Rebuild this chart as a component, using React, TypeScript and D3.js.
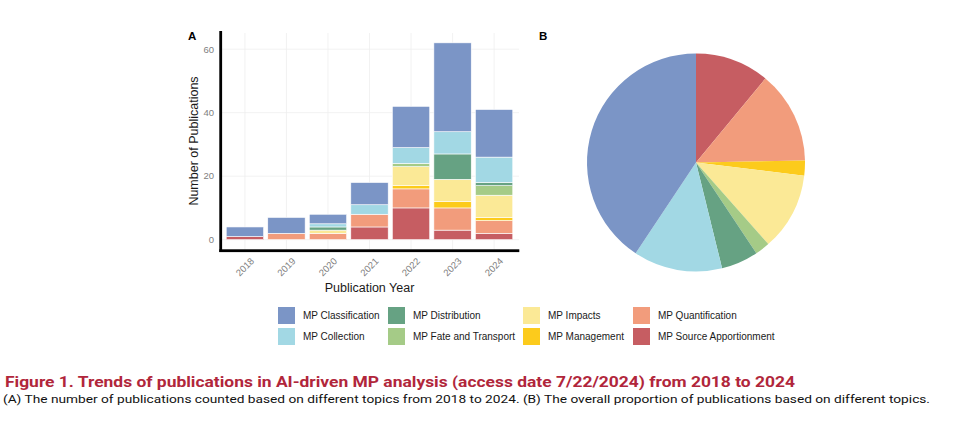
import React from "react";
import * as d3 from "d3";

const years = ["2018", "2019", "2020", "2021", "2022", "2023", "2024"];
const classification = [3, 5, 3, 7, 13, 28, 15];
const collection = [0, 0, 1, 3, 5, 7, 8];
const distribution = [0, 0, 1, 0, 0, 8, 1];
const fateTransport = [0, 0, 0, 0, 1, 0, 3];
const impacts = [0, 0, 1, 0, 6, 7, 7];
const management = [0, 0, 0, 0, 1, 2, 1];
const quantification = [0, 2, 2, 4, 6, 7, 4];
const sourceApportionment = [1, 0, 0, 4, 10, 3, 2];

const topicNames = [
  "MP Classification",
  "MP Collection",
  "MP Distribution",
  "MP Fate and Transport",
  "MP Impacts",
  "MP Management",
  "MP Quantification",
  "MP Source Apportionment",
];
const topicValues = [
  classification,
  collection,
  distribution,
  fateTransport,
  impacts,
  management,
  quantification,
  sourceApportionment,
];
const topicColors = [
  "#7b95c6",
  "#a2d8e4",
  "#66a283",
  "#a5cb87",
  "#fbe996",
  "#fccb1c",
  "#f29c7c",
  "#c65d62",
];
const yTicks = [0, 20, 40, 60];

const FONT = "'Liberation Sans', Arial, Helvetica, sans-serif";

export default function App() {
  const rows = years.map((y, i) => {
    const r: any = { year: y };
    topicNames.forEach((t, k) => (r[t] = topicValues[k][i]));
    return r;
  });
  // stack order bottom -> top is reverse of legend order
  const stackKeys = [...topicNames].reverse();
  const series = d3.stack().keys(stackKeys)(rows);
  const colorOf = d3.scaleOrdinal<string, string>().domain(topicNames).range(topicColors);

  const x = d3.scalePoint().domain(years).range([220, 519]).padding(0.6);
  const step = x.step();
  const bw = step * 0.9;
  const cx = (y: string) => x(y) as number;
  const yS = d3.scaleLinear().domain([-3.1, 65.1]).range([249.5, 33]);

  const totals = topicValues.map((v) => d3.sum(v));
  const pieData = stackKeys.map((k) => ({ key: k, value: totals[topicNames.indexOf(k)] }));
  const arcs = d3.pie<any>().sort(null).value((d) => d.value)(pieData);
  const arcGen = d3.arc<any>().innerRadius(0).outerRadius(109);

  const legendCols = [278, 388, 523, 633];

  return (
    <div style={{ position: "fixed", left: 0, top: 0 }}>
      <svg width={960} height={425} style={{ display: "block", background: "#fff" }}>
        {/* Panel A grid */}
        {yTicks.map((t) => (
          <line key={"gy" + t} x1={221} x2={519} y1={yS(t)} y2={yS(t)} stroke="#efefef" strokeWidth={0.8} />
        ))}
        {years.map((yr) => (
          <line key={"gx" + yr} x1={cx(yr)} x2={cx(yr)} y1={33} y2={249.5} stroke="#efefef" strokeWidth={0.8} />
        ))}
        {/* bars */}
        {series.map((s) => (
          <g key={s.key} fill={colorOf(s.key)}>
            {s.map((d, i) =>
              d[1] - d[0] > 0 ? (
                <rect
                  key={i}
                  x={cx(years[i]) - bw / 2}
                  width={bw}
                  y={yS(d[1])}
                  height={yS(d[0]) - yS(d[1])}
                  stroke="#ffffff"
                  strokeWidth={0.6}
                />
              ) : null
            )}
          </g>
        ))}
        {/* axes */}
        <rect x={219.3} y={31} width={2.8} height={221} fill="#000" />
        <rect x={219.3} y={249.3} width={300} height={2.8} fill="#000" />
        {yTicks.map((t) => (
          <text key={"yt" + t} x={214} y={yS(t)} dy="0.35em" textAnchor="end" fontSize={9.5} fill="#808080" fontFamily={FONT}>
            {t}
          </text>
        ))}
        {years.map((yr) => (
          <text
            key={"xt" + yr}
            transform={`translate(${cx(yr) + 5},${257}) rotate(-45)`}
            textAnchor="end"
            dy="0.7em"
            fontSize={9.5}
            fill="#808080"
            fontFamily={FONT}
          >
            {yr}
          </text>
        ))}
        <text x={369.5} y={292} textAnchor="middle" fontSize={12.5} fill="#1a1a1a" fontFamily={FONT}>
          Publication Year
        </text>
        <text
          transform={`translate(${198},${141}) rotate(-90)`}
          textAnchor="middle"
          fontSize={12.5}
          fill="#1a1a1a"
          fontFamily={FONT}
        >
          Number of Publications
        </text>
        <text x={188} y={40} fontSize={11.5} fontWeight="bold" fontFamily={FONT} fill="#000">
          A
        </text>
        <text x={539} y={40} fontSize={11.5} fontWeight="bold" fontFamily={FONT} fill="#000">
          B
        </text>

        {/* Pie */}
        <g transform="translate(696,162.5)">
          {arcs.map((a) => (
            <path key={a.data.key} d={arcGen(a) as string} fill={colorOf(a.data.key)} />
          ))}
        </g>

        {/* Legend */}
        {topicNames.map((t, i) => {
          const col = Math.floor(i / 2);
          const row = i % 2;
          const lx = legendCols[col];
          const ly = 307 + row * 21;
          return (
            <g key={"lg" + t}>
              <rect x={lx} y={ly} width={17} height={17} fill={colorOf(t)} />
              <text x={lx + 25} y={ly + 8.5} dy="0.35em" fontSize={10} fill="#1a1a1a" fontFamily={FONT}>
                {t}
              </text>
            </g>
          );
        })}

        {/* Caption */}
        <text
          x={5}
          y={387}
          fontSize={15}
          fontWeight="bold"
          fill="#b1263b"
          fontFamily="Roboto, 'Liberation Sans', sans-serif"
          textLength={790}
          lengthAdjust="spacingAndGlyphs"
        >
          Figure 1. Trends of publications in AI-driven MP analysis (access date 7/22/2024) from 2018 to 2024
        </text>
        <text
          x={3}
          y={402.5}
          fontSize={11.5}
          fill="#111"
          fontFamily="Roboto, 'Liberation Sans', sans-serif"
          textLength={927}
          lengthAdjust="spacingAndGlyphs"
        >
          (A) The number of publications counted based on different topics from 2018 to 2024. (B) The overall proportion of publications based on different topics.
        </text>
      </svg>
    </div>
  );
}
